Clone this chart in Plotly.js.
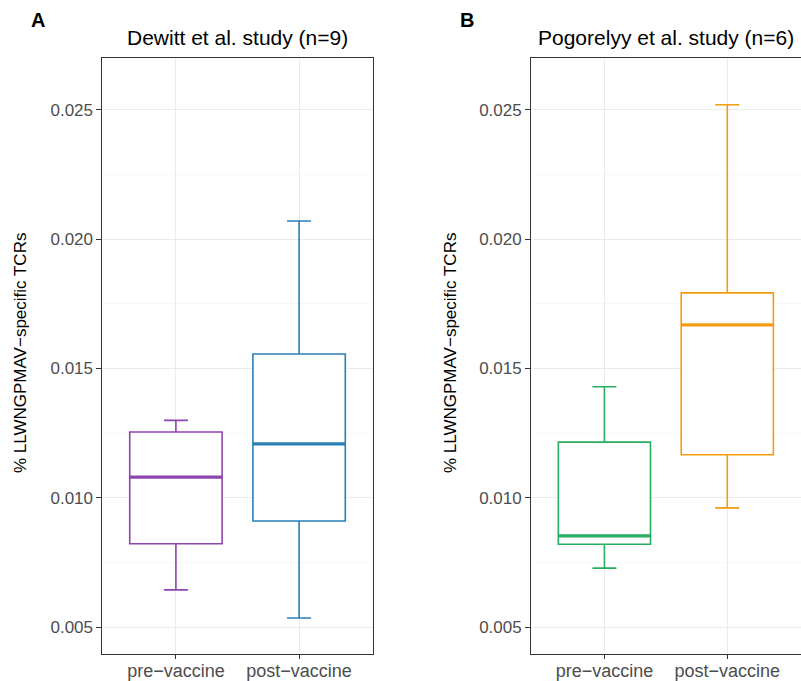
<!DOCTYPE html>
<html>
<head>
<meta charset="utf-8">
<script src="https://cdn.plot.ly/plotly-3.0.1.min.js"></script>
<style>html,body{margin:0;padding:0;background:#fff;}#chart{width:801px;height:681px;}</style>
</head>
<body>
<div id="chart"></div>
<script>
// Categories
const categories = ['pre\u2212vaccine', 'post\u2212vaccine'];

// Panel A: Dewitt et al. study (n=9)
const dewittLower  = [0.00644, 0.00535];
const dewittQ1     = [0.00822, 0.00910];
const dewittMedian = [0.01080, 0.01208];
const dewittQ3     = [0.01254, 0.01556];
const dewittUpper  = [0.01299, 0.02070];

// Panel B: Pogorelyy et al. study (n=6)
const pogoLower  = [0.00728, 0.00961];
const pogoQ1     = [0.00820, 0.01166];
const pogoMedian = [0.00853, 0.01668];
const pogoQ3     = [0.01215, 0.01792];
const pogoUpper  = [0.01429, 0.02519];

const dewittColors = ['#8E44AD', '#2980B9'];
const pogoColors   = ['#27AE60', '#F39C12'];

const yTickVals = [0.005, 0.010, 0.015, 0.020, 0.025];

const FONT = 'Liberation Sans, Arial, Helvetica, sans-serif';
const BOXW = 0.75;

const traces = [];
const shapes = [];
function addPanel(lower, q1, med, q3, upper, colors, xa, ya) {
  categories.forEach((c, i) => {
    traces.push({
      type: 'box', x: [c], q1: [q1[i]], median: [med[i]], q3: [q3[i]],
      lowerfence: [lower[i]], upperfence: [upper[i]],
      xaxis: xa, yaxis: ya, width: BOXW, whiskerwidth: 0.26,
      boxpoints: false, fillcolor: '#ffffff',
      line: {color: colors[i], width: 1.6}, hoverinfo: 'skip'
    });
    shapes.push({
      type: 'line', xref: xa, yref: ya,
      x0: i - BOXW / 2, x1: i + BOXW / 2, y0: med[i], y1: med[i],
      line: {color: colors[i], width: 3.2}, layer: 'above'
    });
  });
}
addPanel(dewittLower, dewittQ1, dewittMedian, dewittQ3, dewittUpper, dewittColors, 'x', 'y');
addPanel(pogoLower, pogoQ1, pogoMedian, pogoQ3, pogoUpper, pogoColors, 'x2', 'y2');

const yDomain = [(681 - 654) / 681, (681 - 58) / 681];
const yRange = [0.00396, 0.0270];

function xAxis(domain, mirror) {
  return {
    domain: domain, type: 'category', categoryorder: 'array', categoryarray: categories,
    range: [-0.6, 1.6], showline: true, linecolor: '#333333', linewidth: 1.1, mirror: mirror,
    ticks: 'outside', ticklen: 4, tickcolor: '#333333', tickwidth: 1.1,
    ticklabelstandoff: -4,
    showgrid: true, gridcolor: '#EBEBEB', gridwidth: 1.1, zeroline: false,
    tickfont: {family: FONT, size: 18, color: '#4D4D4D'}, fixedrange: true
  };
}
function yAxis(anchor, mirror) {
  return {
    domain: yDomain, anchor: anchor, range: yRange,
    tickvals: yTickVals, tickformat: '.3f',
    showline: true, linecolor: '#333333', linewidth: 1.1, mirror: mirror,
    ticks: 'outside', ticklen: 4.5, tickcolor: '#333333', tickwidth: 1.1,
    showgrid: true, gridcolor: '#EBEBEB', gridwidth: 1.1, zeroline: false,
    minor: {dtick: 0.0025, tick0: 0, showgrid: true, gridcolor: '#F3F3F3', gridwidth: 0.6, ticks: ''},
    tickfont: {family: FONT, size: 17, color: '#4D4D4D'}, fixedrange: true
  };
}

const annFont = {family: FONT, size: 21, color: '#000000'};
const ytFont = {family: FONT, size: 17, color: '#000000'};
const layout = {
  width: 801, height: 681,
  margin: {l: 0, r: 0, t: 0, b: 0},
  paper_bgcolor: '#ffffff', plot_bgcolor: '#ffffff',
  showlegend: false, hovermode: false, boxmode: 'overlay',
  xaxis: xAxis([102 / 801, 373 / 801], true),
  yaxis: yAxis('x', true),
  xaxis2: Object.assign(xAxis([530.7 / 801, 1], true), {anchor: 'y2'}),
  yaxis2: yAxis('x2', false),
  shapes: shapes,
  annotations: [
    {text: '<b>A</b>', xref: 'paper', yref: 'paper', x: 29 / 801, y: 1 - 20 / 681, xanchor: 'left', yanchor: 'middle', showarrow: false, font: {family: FONT, size: 20, color: '#000'}},
    {text: '<b>B</b>', xref: 'paper', yref: 'paper', x: 458 / 801, y: 1 - 20 / 681, xanchor: 'left', yanchor: 'middle', showarrow: false, font: {family: FONT, size: 20, color: '#000'}},
    {text: 'Dewitt et al. study (n=9)', xref: 'paper', yref: 'paper', x: 237.5 / 801, y: 1 - 38 / 681, xanchor: 'center', yanchor: 'middle', showarrow: false, font: annFont},
    {text: 'Pogorelyy et al. study (n=6)', xref: 'paper', yref: 'paper', x: 666 / 801, y: 1 - 38 / 681, xanchor: 'center', yanchor: 'middle', showarrow: false, font: annFont},
    {text: '% LLWNGPMAV\u2212specific TCRs', xref: 'paper', yref: 'paper', x: 20 / 801, y: 1 - 353 / 681, xanchor: 'center', yanchor: 'middle', textangle: -90, showarrow: false, font: ytFont},
    {text: '% LLWNGPMAV\u2212specific TCRs', xref: 'paper', yref: 'paper', x: 450 / 801, y: 1 - 353 / 681, xanchor: 'center', yanchor: 'middle', textangle: -90, showarrow: false, font: ytFont}
  ]
};

Plotly.newPlot('chart', traces, layout, {staticPlot: true, displayModeBar: false});
</script>
</body>
</html>
